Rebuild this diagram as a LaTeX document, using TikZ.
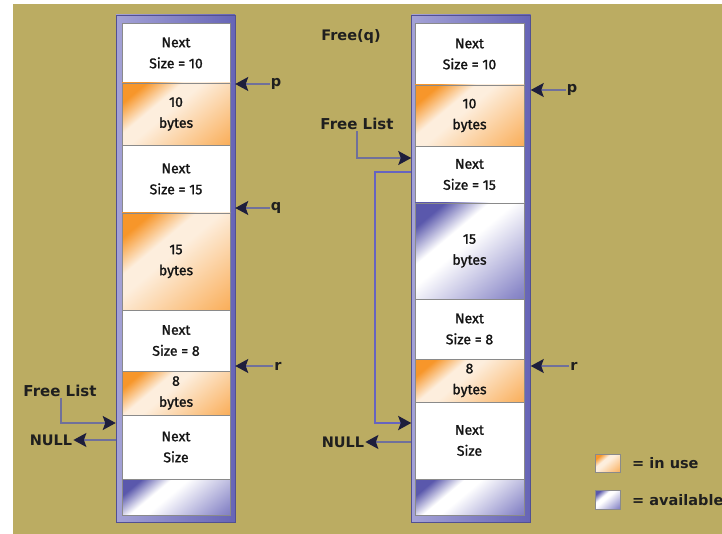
\documentclass[tikz,border=0pt]{standalone}
\usepackage{fontspec}
\setmainfont{Fira Sans}
\newfontface\cellfont{Fira Sans}[FakeBold=1.4]
\newfontfamily\lblfont{DejaVu Sans}
\usetikzlibrary{arrows.meta,calc}
\definecolor{bg}{HTML}{BBAC62}
\definecolor{orD}{HTML}{F7962A}
\definecolor{orM}{HTML}{FAB66A}
\definecolor{orL}{HTML}{FDEEDD}
\definecolor{blD}{HTML}{5A58AC}
\definecolor{blM}{HTML}{8E8CCA}
\definecolor{blL}{HTML}{FFFFFF}
\definecolor{frL}{HTML}{A4A2D6}
\definecolor{frD}{HTML}{6664B6}
\definecolor{sep}{HTML}{8A8A8A}
\definecolor{arline}{HTML}{70709A}
\definecolor{navy}{HTML}{1E1E3C}
\definecolor{loopc}{HTML}{6664C0}
\pgfdeclarehorizontalshading{orband}{100bp}{color(0bp)=(orD); color(24bp)=(orD); color(38bp)=(orL); color(46bp)=(orL); color(80bp)=(orM); color(100bp)=(orD)}
\pgfdeclarehorizontalshading{blband}{100bp}{color(0bp)=(blD); color(24bp)=(blD); color(38bp)=(blL); color(46bp)=(blL); color(80bp)=(blM); color(100bp)=(blD)}
\tikzset{
  x=1pt, y=-1pt,
  cellbase/.style={draw=sep, line width=0.8pt, inner sep=0pt, align=center,
    font=\cellfont\fontsize{14}{21}\selectfont, text=black!92},
  lcell/.style={cellbase, minimum width=108pt},
  rcell/.style={cellbase, minimum width=109pt},
  white cell/.style={fill=white},
  inuse/.style={shade, shading=orband, shading angle=-50},
  avail/.style={shade, shading=blband, shading angle=-50},
  frame/.style={inner sep=0pt, minimum width=119pt, minimum height=507pt,
    left color=frL, right color=frD, draw=frD!80!black, line width=0.5pt},
  lbl/.style={font=\lblfont\bfseries\fontsize{14.5}{16}\selectfont, text=black!88, inner sep=1pt},
  ptr/.style={draw=arline, line width=1.5pt, -{Stealth[length=13pt,width=14pt,inset=2.5pt,color=navy]}},
  looparrow/.style={draw=loopc, line width=2.6pt, -{Stealth[length=13pt,width=14pt,inset=2.5pt,color=navy]}},
}
\begin{document}
\begin{tikzpicture}
\useasboundingbox (0,0) rectangle (722,534);
\fill[white] (0,0) rectangle (722,534);
\fill[bg] (13,4) rectangle (722,534);

% ---------- left column ----------
\node[frame] (LF) at (175.5,268.5) {};
\node[lcell, white cell, minimum height=60pt] (L1) at (176,53) {Next\\Size = 10};
\node[lcell, inuse, minimum height=62pt] (L2) at (176,114) {10\\bytes};
\node[lcell, white cell, minimum height=68pt] (L3) at (176,179) {Next\\Size = 15};
\node[lcell, inuse, minimum height=97pt] (L4) at (176,261.5) {15\\bytes};
\node[lcell, white cell, minimum height=61pt] (L5) at (176,340.5) {Next\\Size = 8};
\node[lcell, inuse, minimum height=44pt] (L6) at (176,393) {8\\bytes};
\node[lcell, white cell, minimum height=64pt] (L7) at (176,447) {Next\\Size};
\node[lcell, avail, minimum height=36pt] (L8) at (176,497) {};

\node[lbl] (Lp) at (276,84) {p};
\node[lbl] (Lq) at (276,208) {q};
\node[lbl] (Lr) at (278,366) {r};
\draw[ptr] (Lp.west) -- (LF.east |- Lp.west);
\draw[ptr] (Lq.west) -- (LF.east |- Lq.west);
\draw[ptr] (Lr.west) -- (LF.east |- Lr.west);

\node[lbl, font=\lblfont\bfseries\fontsize{15}{16}\selectfont] (LFL) at (60,391) {Free List};
\coordinate (LFLc) at (61,423);
\draw[ptr] (LFL.south -| LFLc) -- (LFLc) -- (LF.west |- LFLc);
\node[lbl] (LN) at (51,440) {NULL};
\draw[ptr] (LF.west |- LN.east) -- (LN.east);

% ---------- right column ----------
\node[frame] (RF) at (471,268.5) {};
\node[rcell, white cell, minimum height=62pt] (R1) at (469.5,54) {Next\\Size = 10};
\node[rcell, inuse, minimum height=61pt] (R2) at (469.5,115.5) {10\\bytes};
\node[rcell, white cell, minimum height=57pt] (R3) at (469.5,174.5) {Next\\Size = 15};
\node[rcell, avail, minimum height=96pt] (R4) at (469.5,251) {15\\bytes};
\node[rcell, white cell, minimum height=60pt] (R5) at (469.5,329) {Next\\Size = 8};
\node[rcell, inuse, minimum height=43pt] (R6) at (469.5,380.5) {8\\bytes};
\node[rcell, white cell, minimum height=77pt] (R7) at (469.5,440.5) {Next\\Size};
\node[rcell, avail, minimum height=36pt] (R8) at (469.5,497) {};

\node[lbl] (Rp) at (572,90) {p};
\node[lbl] (Rr) at (574,366) {r};
\draw[ptr] (Rp.west) -- (RF.east |- Rp.west);
\draw[ptr] (Rr.west) -- (RF.east |- Rr.west);

\node[lbl] (Fq) at (351,37) {Free(q)};
\node[lbl, font=\lblfont\bfseries\fontsize{15}{16}\selectfont] (RFL) at (357,124) {Free List};
\coordinate (RFLc) at (357,158);
\draw[ptr] (RFL.south -| RFLc) -- (RFLc) -- (RF.west |- RFLc);

\coordinate (loopA) at (375,172);
\coordinate (loopB) at (375,423);
\draw[looparrow] (RF.west |- loopA) -- (loopA) -- (loopB) -- (RF.west |- loopB);

\node[lbl] (RN) at (343,442) {NULL};
\draw[ptr] (RF.west |- RN.east) -- (RN.east);

% ---------- legend ----------
\node[inuse, draw=sep, line width=0.4pt, minimum width=25pt, minimum height=18pt, inner sep=0pt] (K1) at (607.5,463.5) {};
\node[avail, draw=sep, line width=0.4pt, minimum width=25pt, minimum height=19pt, inner sep=0pt] (K2) at (607.5,499.5) {};
\node[lbl, anchor=west] (K1t) at (631,463) {= in use};
\node[lbl, anchor=west] (K2t) at (631,500) {= available};
\end{tikzpicture}
\end{document}
